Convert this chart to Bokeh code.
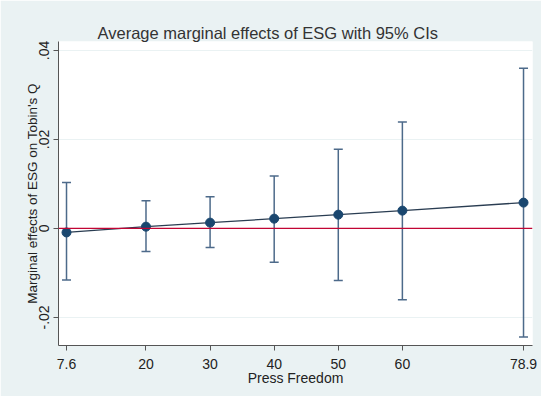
from bokeh.plotting import figure
from bokeh.models import ColumnDataSource, Whisker, TeeHead, Span, FixedTicker, Range1d
from bokeh.embed import file_html
from bokeh.resources import INLINE

press_freedom = [7.6, 20, 30, 40, 50, 60, 78.9]
effect = [-0.0009, 0.0004, 0.0013, 0.0022, 0.0031, 0.0040, 0.0058]
ci_upper = [0.0103, 0.0062, 0.0071, 0.0118, 0.0178, 0.0239, 0.0360]
ci_lower = [-0.0116, -0.0052, -0.0043, -0.0076, -0.0117, -0.0160, -0.0244]
x_ticks = [7.6, 20, 30, 40, 50, 60, 78.9]
y_ticks = [-0.02, 0, 0.02, 0.04]
y_tick_labels = {-0.02: "-.02", 0: "0", 0.02: ".02", 0.04: ".04"}

FONT = "Liberation Sans"
BG = "#eaf2f3"
TXT = "#222222"

src = ColumnDataSource(dict(x=press_freedom, y=effect, up=ci_upper, lo=ci_lower))

p = figure(width=541, height=396, output_backend="svg", toolbar_location=None,
           x_range=Range1d(6.35, 80.3), y_range=Range1d(-0.0263, 0.042),
           min_border_left=58, min_border_right=9, min_border_top=41, min_border_bottom=51)

p.title.text = "Average marginal effects of ESG with 95% CIs"
p.title.text_font = FONT
p.title.text_font_size = "16.5px"
p.title.text_font_style = "normal"
p.title.text_color = "#333333"
p.title.align = "left"
p.title.offset = 39
p.title.standoff = 0

p.border_fill_color = BG
p.background_fill_color = "white"
p.outline_line_color = None

p.xgrid.grid_line_color = None
p.ygrid.grid_line_color = BG
p.ygrid.grid_line_width = 1

p.xaxis.ticker = FixedTicker(ticks=x_ticks)
p.xaxis.major_label_overrides = {7.6: "7.6", 20: "20", 30: "30", 40: "40", 50: "50", 60: "60", 78.9: "78.9"}
p.yaxis.ticker = FixedTicker(ticks=y_ticks)
p.yaxis.major_label_overrides = y_tick_labels
p.yaxis.major_label_orientation = "vertical"

for ax in (p.xaxis, p.yaxis):
    ax.axis_line_color = "#555555"
    ax.major_tick_line_color = "#555555"
    ax.major_tick_out = 5
    ax.major_tick_in = 0
    ax.minor_tick_line_color = None
    ax.major_label_text_font = FONT
    ax.major_label_text_font_size = "14px"
    ax.major_label_text_color = TXT
    ax.axis_label_text_font = FONT
    ax.axis_label_text_font_size = "14px"
    ax.axis_label_text_font_style = "normal"
    ax.axis_label_text_color = TXT

p.xaxis.axis_label = "Press Freedom"
p.xaxis.major_label_standoff = 8
p.xaxis.axis_label_standoff = -2
p.yaxis.axis_label = "Marginal effects of ESG on Tobin's Q"
p.yaxis.axis_label_text_font_size = "13.5px"
p.yaxis.major_label_standoff = 4
p.yaxis.axis_label_standoff = -3

p.add_layout(Span(location=0, dimension="width", line_color="#c10534", line_width=1.3))

ci_color = "#4d6a8a"
w = Whisker(base="x", upper="up", lower="lo", source=src, dimension="height",
            line_color=ci_color, line_width=1.5,
            upper_head=TeeHead(size=9, line_color=ci_color, line_width=1.5),
            lower_head=TeeHead(size=9, line_color=ci_color, line_width=1.5))
p.add_layout(w)

p.line("x", "y", source=src, line_color="#2a3d52", line_width=1.3)
p.scatter("x", "y", source=src, size=9, fill_color="#1a476f", line_color="#1a476f")

open("out.html", "w").write(file_html(p, INLINE))
